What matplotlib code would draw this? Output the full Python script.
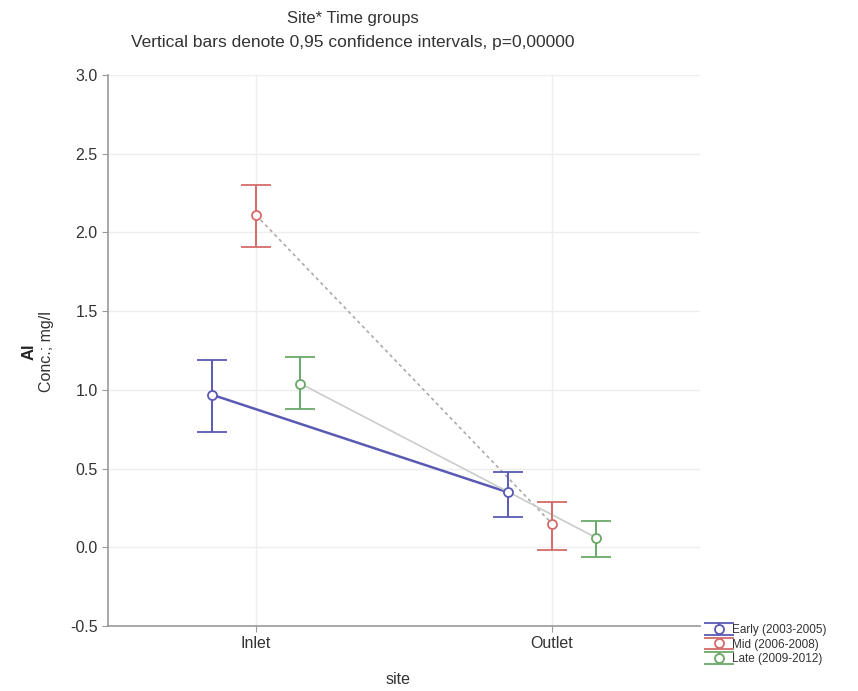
import matplotlib
matplotlib.use("Agg")
import matplotlib.pyplot as plt
import numpy as np

plt.rcParams["font.family"] = ["Liberation Sans", "DejaVu Sans"]

sites = ["Inlet", "Outlet"]
groups = ["Early (2003-2005)", "Mid (2006-2008)", "Late (2009-2012)"]
means = {
    "Early (2003-2005)": [0.97, 0.35],
    "Mid (2006-2008)": [2.11, 0.15],
    "Late (2009-2012)": [1.04, 0.06],
}
upper = {
    "Early (2003-2005)": [1.19, 0.48],
    "Mid (2006-2008)": [2.30, 0.29],
    "Late (2009-2012)": [1.21, 0.17],
}
lower = {
    "Early (2003-2005)": [0.73, 0.19],
    "Mid (2006-2008)": [1.91, -0.02],
    "Late (2009-2012)": [0.88, -0.06],
}
yticks = [-0.5, 0.0, 0.5, 1.0, 1.5, 2.0, 2.5, 3.0]

colors = ["#5a5ab4", "#d46a6a", "#6aa86a"]
line_colors = ["#5a5ab4", "#b0a8a8", "#c8cdc8"]
line_styles = ["-", (0, (2, 2)), "-"]
line_widths = [1.8, 1.2, 1.2]
offsets = [-0.15, 0.0, 0.15]

fig = plt.figure(figsize=(8.58, 6.91), dpi=100)
ax = fig.add_axes([108/858, 1-626/691, 592/858, 551/691])

x = np.arange(len(sites))
handles = []
for i, g in enumerate(groups):
    xs = x + offsets[i]
    m = np.array(means[g])
    up = np.array(upper[g]) - m
    lo = m - np.array(lower[g])
    ax.plot(xs, m, color=line_colors[i], ls=line_styles[i], lw=line_widths[i], zorder=2)
    h = ax.errorbar(xs, m, yerr=[lo, up], fmt="o", color=colors[i], mfc="white",
                    mec=colors[i], ms=6.5, mew=1.3, ecolor=colors[i], elinewidth=1.4,
                    capsize=11, capthick=1.4, zorder=3, label=g)
    handles.append(h)

ax.set_xlim(-0.5, 1.5)
ax.set_ylim(-0.5, 3.0)
ax.set_xticks(x)
ax.set_xticklabels(sites, fontsize=11.5, color="#333333")
ax.set_yticks(yticks)
ax.set_yticklabels([f"{t:.1f}" for t in yticks], fontsize=11.5, color="#333333")
ax.grid(True, color="#eeeeee", lw=1)
ax.set_axisbelow(True)
for s in ax.spines.values():
    s.set_color("#999999")
    s.set_linewidth(1.2)
ax.spines["top"].set_visible(False)
ax.spines["right"].set_visible(False)
ax.tick_params(colors="#999999", labelcolor="#333333", length=4)

fig.text(353/858, 1-18/691, "Site* Time groups", ha="center", va="center", fontsize=12, color="#333333")
fig.text(353/858, 1-42/691, "Vertical bars denote 0,95 confidence intervals, p=0,00000",
         ha="center", va="center", fontsize=12.5, color="#333333")
fig.text(398/858, 1-680/691, "site", ha="center", va="center", fontsize=11.5, color="#333333")
fig.text(29/858, 1-352/691, "Al", rotation=90, ha="center", va="center", fontsize=12,
         fontweight="bold", color="#222222")
fig.text(46/858, 1-352/691, "Conc.; mg/l", rotation=90, ha="center", va="center",
         fontsize=11.5, color="#333333")

fig.legend(handles=handles, labels=groups, loc="lower left",
           bbox_to_anchor=(704/858, 1-672/691), fontsize=8.5, frameon=False,
           handlelength=1.4, handletextpad=0.4, labelspacing=0.2, borderpad=0.1,
           labelcolor="#333333")

fig.savefig("out.png", dpi=100)
